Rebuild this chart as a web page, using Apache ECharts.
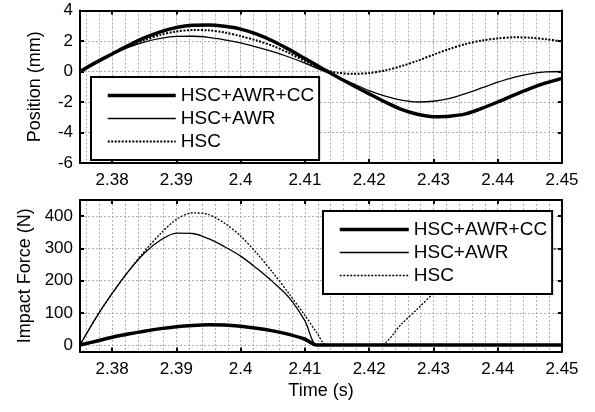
<!DOCTYPE html>
<html>
<head>
<meta charset="utf-8">
<script src="https://cdn.jsdelivr.net/npm/echarts@6/dist/echarts.min.js"></script>
<style>
html, body { margin: 0; padding: 0; background: #fff; }
#chart { width: 595px; height: 412px; }
</style>
</head>
<body>
<div id="chart"></div>
<script>
var seriesNames = ['HSC+AWR+CC', 'HSC+AWR', 'HSC'];

// position plot (mm)
var posTime = [2.375, 2.3775, 2.38, 2.3825, 2.385, 2.3875, 2.39, 2.3925, 2.395, 2.3975,
	2.4, 2.4025, 2.405, 2.4075, 2.41, 2.4125, 2.415, 2.4175, 2.42, 2.4225,
	2.425, 2.4275, 2.43, 2.4325, 2.435, 2.4375, 2.44, 2.4425, 2.445, 2.4475, 2.45];
var posCC = [0, 0.6, 1.15, 1.7, 2.2, 2.6, 2.88, 3.03, 3.05, 2.96,
	2.78, 2.45, 2.0, 1.45, 0.85, 0.25, -0.35, -0.92, -1.47, -2.0,
	-2.48, -2.8, -2.96, -2.93, -2.78, -2.42, -2.0, -1.55, -1.12, -0.75, -0.45];
var posAWR = [0, 0.6, 1.12, 1.58, 1.93, 2.17, 2.3, 2.31, 2.24, 2.08,
	1.87, 1.6, 1.3, 0.95, 0.55, 0.1, -0.33, -0.8, -1.25, -1.62,
	-1.88, -2.0, -1.95, -1.76, -1.45, -1.08, -0.7, -0.38, -0.15, -0.03, 0];
var posHSC = [0, 0.6, 1.15, 1.64, 2.05, 2.4, 2.62, 2.72, 2.7, 2.56,
	2.32, 2.03, 1.68, 1.22, 0.68, 0.18, -0.08, -0.15, -0.1, 0.07,
	0.35, 0.7, 1.1, 1.48, 1.8, 2.03, 2.17, 2.24, 2.22, 2.12, 1.97];

// impact force plot (N)
var forceTime = [2.375, 2.3775, 2.38, 2.3825, 2.385, 2.3875, 2.39, 2.3925, 2.395, 2.3975,
	2.4, 2.4025, 2.405, 2.4075, 2.41, 2.4118, 2.4134, 2.4175, 2.4217, 2.425,
	2.4275, 2.43, 2.4325, 2.435, 2.4375, 2.44, 2.4425, 2.445, 2.4475, 2.45];
var forceCC = [0, 12, 24, 34, 43, 51, 57, 61, 63, 62,
	58, 52, 44, 33, 18, 0, 0, 0, 0, 0,
	0, 0, 0, 0, 0, 0, 0, 0, 0, 0];
var forceAWR = [0, 85, 160, 228, 285, 325, 347, 346, 330, 305,
	276, 238, 196, 148, 75, 0, 0, 0, 0, 0,
	0, 0, 0, 0, 0, 0, 0, 0, 0, 0];
var forceHSC = [0, 85, 160, 228, 290, 345, 390, 410, 405, 378,
	338, 285, 225, 160, 92, 40, 0, 0, 0, 65,
	112, 160, 198, 227, 250, 267, 280, 289, 295, 300];

var tMin = 2.375, tMax = 2.45;
var font = 'Liberation Sans, Arial, sans-serif';
var gridLine = { show: true, showMinLine: false, showMaxLine: false, lineStyle: { color: '#b0b0b0', width: 1, type: [2, 2] } };
var tick = { show: true, inside: true, length: 4, lineStyle: { color: '#000', width: 2 } };
var border = { show: true, onZero: false, lineStyle: { color: '#000', width: 2 } };

// line look per series: [width, dash] for top and bottom plot
var styleTop = [[3.5, 'solid'], [1.3, 'solid'], [2, [2, 1.5]]];
var styleBottom = [[3.5, 'solid'], [1.3, 'solid'], [1.3, [2, 1.5]]];

function pairs(t, v) {
	return t.map(function(x, i) { return [x, v[i]]; });
}

function timeAxes(g, withName) {
	var main = {
		type: 'value', gridIndex: g, min: tMin, max: tMax, position: 'bottom',
		minInterval: 0.01, maxInterval: 0.01,
		axisLine: border, axisTick: tick, splitLine: gridLine,
		axisLabel: { showMinLabel: false, color: '#000', fontSize: 17, fontFamily: font, margin: 9 }
	};
	if (withName) {
		main.name = 'Time (s)';
		main.nameLocation = 'middle';
		main.nameGap = 31;
		main.nameTextStyle = { color: '#000', fontSize: 18, fontFamily: font };
	}
	// minor vertical grid every 0.002 s
	var minor = {
		type: 'value', gridIndex: g, min: tMin, max: tMax, position: 'bottom',
		minInterval: 0.002, maxInterval: 0.002,
		axisLine: { show: false }, axisTick: { show: false }, axisLabel: { show: false },
		splitLine: gridLine
	};
	var top = {
		type: 'value', gridIndex: g, min: tMin, max: tMax, position: 'top',
		minInterval: 0.01, maxInterval: 0.01,
		axisLine: border, axisTick: tick, axisLabel: { show: false }, splitLine: { show: false }
	};
	return [main, minor, top];
}

function valueAxes(g, min, max, step, name, gap) {
	var left = {
		type: 'value', gridIndex: g, min: min, max: max, position: 'left',
		minInterval: step, maxInterval: step,
		axisLine: border, axisTick: tick, splitLine: gridLine,
		axisLabel: { showMinLabel: min % step === 0, showMaxLabel: max % step === 0, color: '#000', fontSize: 17, fontFamily: font, margin: 7 },
		name: name, nameLocation: 'middle', nameGap: gap,
		nameTextStyle: { color: '#000', fontSize: 18, fontFamily: font }
	};
	var right = {
		type: 'value', gridIndex: g, min: min, max: max, position: 'right',
		minInterval: step, maxInterval: step,
		axisLine: border, axisTick: tick, axisLabel: { show: false }, splitLine: { show: false }
	};
	return [left, right];
}

function line(i, x, y, data, st) {
	return {
		name: seriesNames[i], type: 'line', xAxisIndex: x, yAxisIndex: y,
		data: data, symbol: 'none', smooth: 0.3, animation: false,
		itemStyle: { color: '#000' },
		lineStyle: { color: '#000', width: st[i][0], type: st[i][1] }
	};
}

function legend(left, top, iconW, st) {
	return {
		orient: 'vertical', left: left, top: top,
		data: seriesNames.map(function(n, i) {
			return { name: n, lineStyle: { color: '#000', width: st[i][0], type: st[i][1] } };
		}),
		itemWidth: iconW, itemHeight: 14, itemGap: 4,
		itemStyle: { opacity: 0 },
		padding: [9, 5, 9, 15], borderColor: '#000', borderWidth: 2, backgroundColor: '#fff',
		selectedMode: false,
		textStyle: { color: '#000', fontSize: 19, fontFamily: font }
	};
}

var chart = echarts.init(document.getElementById('chart'), null, { renderer: 'canvas' });
chart.setOption({
	backgroundColor: '#fff',
	animation: false,
	grid: [
		{ left: 80, right: 33, top: 10.5, height: 152.5 },
		{ left: 80, right: 33, top: 200, height: 151.5 }
	],
	xAxis: timeAxes(0, false).concat(timeAxes(1, true)),
	yAxis: valueAxes(0, -6, 4, 2, 'Position (mm)', 36).concat(valueAxes(1, -20, 450, 100, 'Impact Force (N)', 46)),
	legend: [legend(91, 77, 68, styleTop), legend(323, 211, 69, styleBottom)],
	series: [
		line(0, 0, 0, pairs(posTime, posCC), styleTop),
		line(1, 0, 0, pairs(posTime, posAWR), styleTop),
		line(2, 0, 0, pairs(posTime, posHSC), styleTop),
		line(0, 3, 2, pairs(forceTime, forceCC), styleBottom),
		line(1, 3, 2, pairs(forceTime, forceAWR), styleBottom),
		line(2, 3, 2, pairs(forceTime, forceHSC), styleBottom)
	]
});
</script>
</body>
</html>
